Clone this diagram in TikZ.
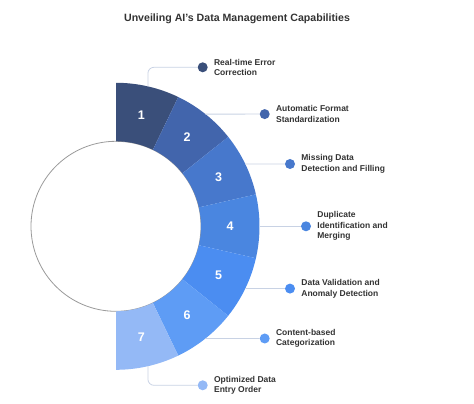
\documentclass[tikz,border=0pt]{standalone}
\usepackage{fontspec}
\setmainfont{Liberation Sans}
\usetikzlibrary{positioning,calc}
\definecolor{seg1}{HTML}{3A4F7A}
\definecolor{seg2}{HTML}{4265AC}
\definecolor{seg3}{HTML}{4778CC}
\definecolor{seg4}{HTML}{4A86E0}
\definecolor{seg5}{HTML}{4B8DF1}
\definecolor{seg6}{HTML}{5E9CF5}
\definecolor{seg7}{HTML}{94B9F6}
\definecolor{linkgray}{HTML}{C8D2E4}
\definecolor{txtgray}{HTML}{333333}
\definecolor{rimgray}{HTML}{9A9A9A}

\begin{document}
\begin{tikzpicture}[x=1pt, y=1pt,
  dot/.style={circle, inner sep=0pt, minimum size=10pt},
  conn/.style={draw=linkgray, line width=0.8pt},
  lbl/.style={right=6pt of #1, inner sep=0pt, align=left,
              font=\fontsize{8.5}{10.5}\selectfont\bfseries, text=txtgray},
  num/.style={font=\fontsize{12.5}{14}\selectfont\bfseries, text=white}]
  \useasboundingbox (0,0) rectangle (474,404);
  \node[font=\fontsize{10.6}{13}\selectfont\bfseries, text=txtgray] (title)
    at (237,385) {Unveiling AI's Data Management Capabilities};
  \coordinate (c) at (116,177.7);
  % inner disc
  \draw[rimgray, fill=white, line width=0.8pt] (c) circle[radius=85];
  % ring segments
  \foreach \i in {1,...,7}{
    \pgfmathsetmacro{\a}{90-180/7*(\i-1)}
    \pgfmathsetmacro{\b}{90-180/7*\i}
    \pgfmathsetmacro{\m}{90-180/7*(\i-0.5)}
    \fill[fill=seg\i] ($(c)+(\a:85)$) arc[start angle=\a, end angle=\b, radius=85]
      -- ($(c)+(\b:143.5)$) arc[start angle=\b, end angle=\a, radius=143.5] -- cycle;
    \node[num] (n\i) at ($(c)+(\m:114)$) {\i};
    \coordinate (o\i) at ($(c)+(\m:143.5)$);
  }
  % dots and labels
  \node[dot, fill=seg1] (d1) at (202.7,336.7) {};
  \node[lbl=d1] (l1) {Real-time Error\\Correction};
  \node[dot, fill=seg2] (d2) at (264.7,289.9) {};
  \node[lbl=d2] (l2) {Automatic Format\\Standardization};
  \node[dot, fill=seg3] (d3) at (290,240.0) {};
  \node[lbl=d3] (l3) {Missing Data\\Detection and Filling};
  \node[dot, fill=seg4] (d4) at (306,177.7) {};
  \node[lbl=d4] (l4) {Duplicate\\Identification and\\Merging};
  \node[dot, fill=seg5] (d5) at (290,115.4) {};
  \node[lbl=d5] (l5) {Data Validation and\\Anomaly Detection};
  \node[dot, fill=seg6] (d6) at (264.7,65.5) {};
  \node[lbl=d6] (l6) {Content-based\\Categorization};
  \node[dot, fill=seg7] (d7) at (202.7,18.7) {};
  \node[lbl=d7] (l7) {Optimized Data\\Entry Order};
  % connectors
  \draw[conn, rounded corners=6pt] (o1) |- (d1);
  \foreach \i in {2,...,6}
    \draw[conn] (o\i) -- (d\i);
  \draw[conn, rounded corners=6pt] (o7) |- (d7);
\end{tikzpicture}
\end{document}
